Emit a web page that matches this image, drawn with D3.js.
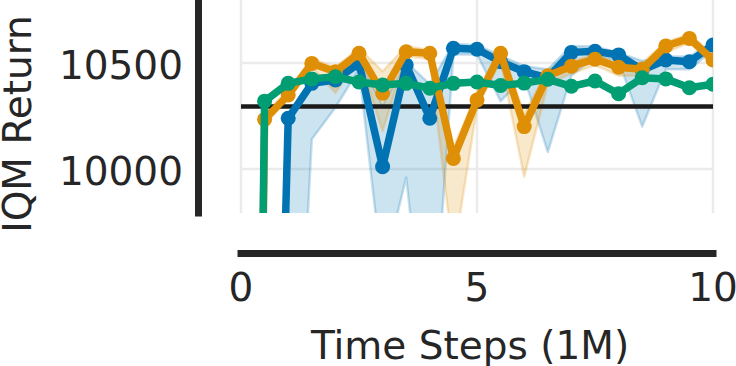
<!DOCTYPE html>
<html>
<head>
<meta charset="utf-8">
<script src="https://cdn.jsdelivr.net/npm/d3@7"></script>
<style>
html,body{margin:0;padding:0;background:#fff;}
svg{display:block;}
text{font-family:"DejaVu Sans",sans-serif;fill:#262626;}
</style>
</head>
<body>
<svg id="chart" width="736" height="366"></svg>
<script>
// ---- data ----
const steps = [0,0.5,1,1.5,2,2.5,3,3.5,4,4.5,5,5.5,6,6.5,7,7.5,8,8.5,9,9.5,10];
const blueMean  = [1000,6000,10239,10404,10420,10498,10011,10490,10239,10569,10565,10506,10459,10430,10550,10555,10538,10467,10514,10506,10585];
const blueLow   = [500,5000,8000,10140,10290,10470,9500,9960,8950,10540,10540,10320,10430,10080,10440,10530,10510,10200,10470,10470,10560];
const blueHigh  = [1500,6500,10255,10420,10440,10515,10300,10505,10400,10590,10585,10535,10485,10470,10580,10578,10548,10510,10530,10530,10600];
const orangeMean= [1500,10234,10349,10498,10459,10546,10357,10553,10546,10050,10325,10546,10200,10440,10485,10518,10480,10470,10580,10616,10514];
const orangeLow = [1000,10210,10330,10480,10360,10520,10180,10530,10520,9590,10290,10510,9964,10400,10450,10490,10440,10440,10550,10595,10490];
const orangeHigh= [2000,10260,10370,10520,10480,10570,10460,10580,10560,10100,10360,10570,10260,10470,10510,10540,10500,10500,10600,10635,10540];
const greenMean = [1500,10320,10404,10425,10435,10410,10396,10404,10381,10404,10410,10394,10405,10423,10390,10415,10355,10430,10425,10383,10400];
const greenLow  = [1400,10310,10395,10415,10425,10400,10388,10396,10373,10396,10402,10386,10397,10415,10382,10407,10347,10422,10417,10375,10392];
const greenHigh = [1600,10330,10413,10435,10445,10420,10404,10412,10389,10412,10418,10402,10413,10431,10398,10423,10363,10438,10433,10391,10408];
const baseline = 10295;
const xTicks = [0,5,10];
const yTicks = [10000,10500];
const xLabel = "Time Steps (1M)";
const yLabel = "IQM Return";

const series = [
  {name:"blue",   color:"#0173b2", mean:blueMean,   low:blueLow,   high:blueHigh},
  {name:"orange", color:"#de8f05", mean:orangeMean, low:orangeLow, high:orangeHigh},
  {name:"green",  color:"#029e73", mean:greenMean,  low:greenLow,  high:greenHigh}
];

// ---- layout ----
const svg = d3.select("#chart");
const x = d3.scaleLinear().domain([0,10]).range([241,713]);
const y = d3.scaleLinear().domain([9792.5,10797]).range([213,0]);

const defs = svg.append("defs");
defs.append("clipPath").attr("id","plotclip")
  .append("rect").attr("x",241).attr("y",0).attr("width",472).attr("height",213);

// gridlines
const grid = svg.append("g");
grid.selectAll("line.gx").data(xTicks).enter().append("line")
  .attr("x1",d=>x(d)).attr("x2",d=>x(d)).attr("y1",0).attr("y2",213)
  .attr("stroke","#ebebeb").attr("stroke-width",2.5);
grid.selectAll("line.gy").data(yTicks).enter().append("line")
  .attr("x1",x(0)).attr("x2",x(10)).attr("y1",d=>y(d)).attr("y2",d=>y(d))
  .attr("stroke","#ebebeb").attr("stroke-width",2.5);

const plot = svg.append("g").attr("clip-path","url(#plotclip)");

// bands
series.forEach(s=>{
  const area = d3.area().x((d,i)=>x(steps[i])).y0((d,i)=>y(s.low[i])).y1((d,i)=>y(s.high[i]));
  plot.append("path").datum(s.mean).attr("d",area)
    .attr("fill",s.color).attr("fill-opacity",0.2)
    .attr("stroke",s.color).attr("stroke-opacity",0.22).attr("stroke-width",2.5)
    .attr("stroke-linejoin","round");
});

// baseline
plot.append("line").attr("x1",x(0)).attr("x2",x(10))
  .attr("y1",y(baseline)).attr("y2",y(baseline))
  .attr("stroke","#1a1a1a").attr("stroke-width",4.5);

// lines + markers
series.forEach(s=>{
  const line = d3.line().x((d,i)=>x(steps[i])).y(d=>y(d));
  const g = plot.append("g");
  g.append("path").datum(s.mean).attr("d",line)
    .attr("fill","none").attr("stroke",s.color).attr("stroke-width",7.5)
    .attr("stroke-linejoin","round").attr("stroke-linecap","round");
  g.selectAll("circle").data(s.mean).enter().append("circle")
    .attr("cx",(d,i)=>x(steps[i])).attr("cy",d=>y(d)).attr("r",7.5)
    .attr("fill",s.color);
});

// spines (offset)
svg.append("line").attr("x1",198.5).attr("x2",198.5).attr("y1",y.range()[0]).attr("y2",y.range()[1])
  .attr("stroke","#262626").attr("stroke-width",7).attr("stroke-linecap","square");
svg.append("line").attr("x1",x(0)).attr("x2",x(10)).attr("y1",253.5).attr("y2",253.5)
  .attr("stroke","#262626").attr("stroke-width",7).attr("stroke-linecap","square");

// tick labels
svg.selectAll("text.yt").data(yTicks).enter().append("text")
  .attr("x",183).attr("y",d=>y(d)+16).attr("text-anchor","end")
  .attr("font-size",39).text(d=>d);
svg.selectAll("text.xt").data(xTicks).enter().append("text")
  .attr("x",d=>x(d)).attr("y",301).attr("text-anchor","middle")
  .attr("font-size",39).text(d=>d);

// axis labels
svg.append("text").attr("x",470).attr("y",359).attr("text-anchor","middle")
  .attr("font-size",39).text(xLabel);
svg.append("text").attr("transform","translate(31,124) rotate(-90)")
  .attr("text-anchor","middle").attr("font-size",39).text(yLabel);
</script>
</body>
</html>
